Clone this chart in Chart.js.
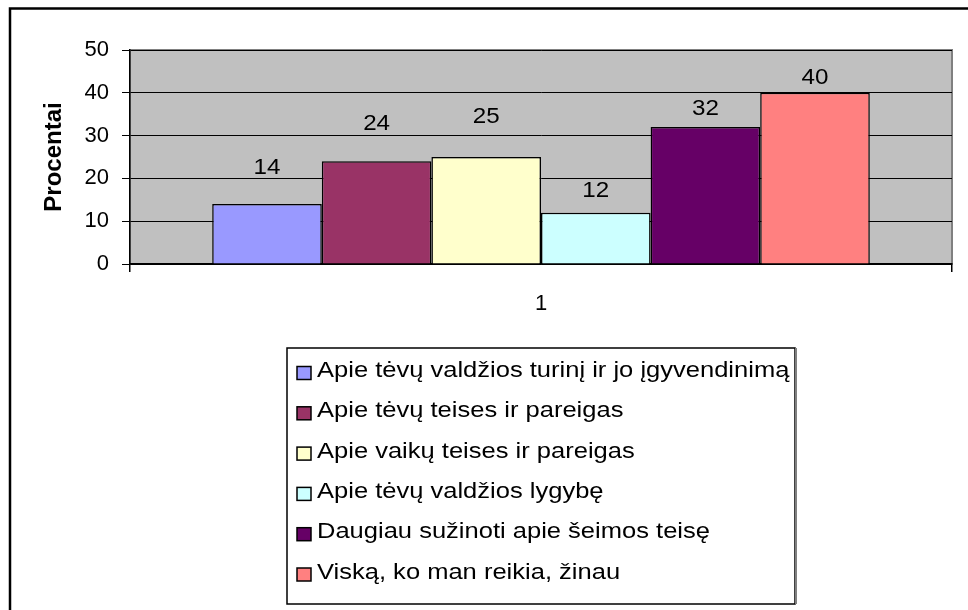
<!DOCTYPE html>
<html>
<head>
<meta charset="utf-8">
<script src="https://cdn.jsdelivr.net/npm/chart.js@4/dist/chart.umd.min.js"></script>
<style>
  html, body { margin: 0; padding: 0; background: #fff; }
  #wrap { width: 968px; height: 610px; }
</style>
</head>
<body>
<div id="wrap"><canvas id="barChart" width="968" height="610"></canvas></div>
<script>
// duomenys
const categories = ['1'];
const seriesNames = [
    'Apie tėvų valdžios turinį ir jo įgyvendinimą',
    'Apie tėvų teises ir pareigas',
    'Apie vaikų teises ir pareigas',
    'Apie tėvų valdžios lygybę',
    'Daugiau sužinoti apie šeimos teisę',
    'Viską, ko man reikia, žinau'
];
const seriesValues = [14, 24, 25, 12, 32, 40];
const seriesColors = ['#9999FF', '#993366', '#FFFFCC', '#CCFFFF', '#660066', '#FF8080'];
const yTicks = [0, 10, 20, 30, 40, 50];

// etikečių atitraukimas nuo stulpelio viršaus (px)
const labelOffsets = [36, 37, 40, 22, 18, 15];

const FONT = '"Liberation Sans", Arial, sans-serif';
Chart.defaults.font.family = FONT;
Chart.defaults.font.size = 22;
Chart.defaults.color = '#000';

// tekstas ištemptas horizontaliai (kaip originale)
function wideText(ctx, text, x, y, sx, align) {
    ctx.save();
    const w = ctx.measureText(text).width * sx;
    let x0 = x;
    if (align === 'center') x0 = x - w / 2;
    ctx.translate(x0, y);
    ctx.scale(sx, 1);
    ctx.textAlign = 'left';
    ctx.fillText(text, 0, 0);
    ctx.restore();
}

// pilkas braižymo plotas
const plotBg = {
    id: 'plotBg',
    beforeDraw(chart) {
        const { ctx, chartArea: a } = chart;
        ctx.save();
        // išorinis rėmelis
        ctx.strokeStyle = '#000';
        ctx.lineWidth = 2.5;
        ctx.beginPath();
        ctx.moveTo(10, 640);
        ctx.lineTo(10, 8.5);
        ctx.lineTo(1000, 8.5);
        ctx.stroke();

        ctx.fillStyle = '#C0C0C0';
        ctx.fillRect(a.left, a.top, a.right - a.left, a.bottom - a.top);
        ctx.strokeStyle = '#808080';
        ctx.lineWidth = 2;
        ctx.strokeRect(a.left, a.top, a.right - a.left, a.bottom - a.top);
        ctx.restore();
    }
};

// reikšmių etiketės virš stulpelių
const valueLabels = {
    id: 'valueLabels',
    afterDatasetsDraw(chart) {
        const ctx = chart.ctx;
        ctx.save();
        ctx.font = '22px ' + FONT;
        ctx.fillStyle = '#000';
        ctx.textBaseline = 'middle';
        chart.data.datasets.forEach(function (ds, i) {
            const bar = chart.getDatasetMeta(i).data[0];
            wideText(ctx, String(ds.data[0]), bar.x, bar.y - labelOffsets[i], 1.1, 'center');
        });
        ctx.restore();
    }
};

// legenda rėmelyje po grafiku
const boxLegend = {
    id: 'boxLegend',
    afterDraw(chart) {
        const ctx = chart.ctx;
        const a = chart.chartArea;
        const sx = 1.16;
        ctx.save();
        ctx.font = '22px ' + FONT;
        let maxW = 0;
        chart.data.datasets.forEach(ds => { maxW = Math.max(maxW, ctx.measureText(ds.label).width * sx); });
        const boxW = Math.round(maxW + 36);
        const left = Math.round((a.left + a.right) / 2 - boxW / 2);
        const top = a.bottom + 84;
        const boxH = 256;
        ctx.strokeStyle = '#000';
        ctx.lineWidth = 1.5;
        ctx.strokeRect(left, top, boxW, boxH);
        // šešėlis dešinėje
        ctx.strokeStyle = '#808080';
        ctx.lineWidth = 2;
        ctx.beginPath();
        ctx.moveTo(left + boxW + 1, top);
        ctx.lineTo(left + boxW + 1, top + boxH);
        ctx.stroke();

        ctx.textBaseline = 'alphabetic';
        chart.data.datasets.forEach(function (ds, i) {
            const base = top + 29 + i * 40.3;
            const cy = base - 4;
            ctx.fillStyle = ds.backgroundColor;
            ctx.fillRect(left + 10, cy - 6.5, 14, 13);
            ctx.strokeStyle = '#000';
            ctx.lineWidth = 1.5;
            ctx.strokeRect(left + 10, cy - 6.5, 14, 13);
            ctx.fillStyle = '#000';
            wideText(ctx, ds.label, left + 30, base, sx, 'left');
        });
        ctx.restore();
    }
};

const datasets = seriesNames.map((name, i) => ({
    label: name,
    data: [seriesValues[i]],
    backgroundColor: seriesColors[i],
    borderColor: '#000',
    borderWidth: 1.5,
    categoryPercentage: 0.8,
    barPercentage: 1.0
}));

const ctx = document.getElementById('barChart').getContext('2d');
window.myBarChart = new Chart(ctx, {
    type: 'bar',
    data: { labels: categories, datasets: datasets },
    options: {
        responsive: false,
        animation: false,
        layout: { padding: { top: 50, right: 16, left: 0, bottom: 0 } },
        plugins: {
            legend: { display: false },
            tooltip: { enabled: false }
        },
        scales: {
            x: {
                grid: { display: true, drawOnChartArea: false, color: '#000', tickLength: 8, lineWidth: 1.5 },
                border: { color: '#000', width: 1.5 },
                ticks: { padding: 19, color: '#000', font: { size: 22 } },
                afterFit(scale) { scale.height = 346; }
            },
            y: {
                min: 0,
                max: 50,
                afterBuildTicks(scale) { scale.ticks = yTicks.map(v => ({ value: v })); },
                grid: { color: '#000', lineWidth: 1, tickLength: 8 },
                border: { color: '#000', width: 1.5 },
                ticks: { padding: 13, color: '#000', font: { size: 22 } },
                title: {
                    display: true,
                    text: 'Procentai',
                    color: '#000',
                    font: { size: 24, weight: 'bold' },
                    padding: { top: 40, bottom: 0 }
                },
                afterFit(scale) { scale.width = 130; }
            }
        }
    },
    plugins: [plotBg, valueLabels, boxLegend]
});
</script>
</body>
</html>
